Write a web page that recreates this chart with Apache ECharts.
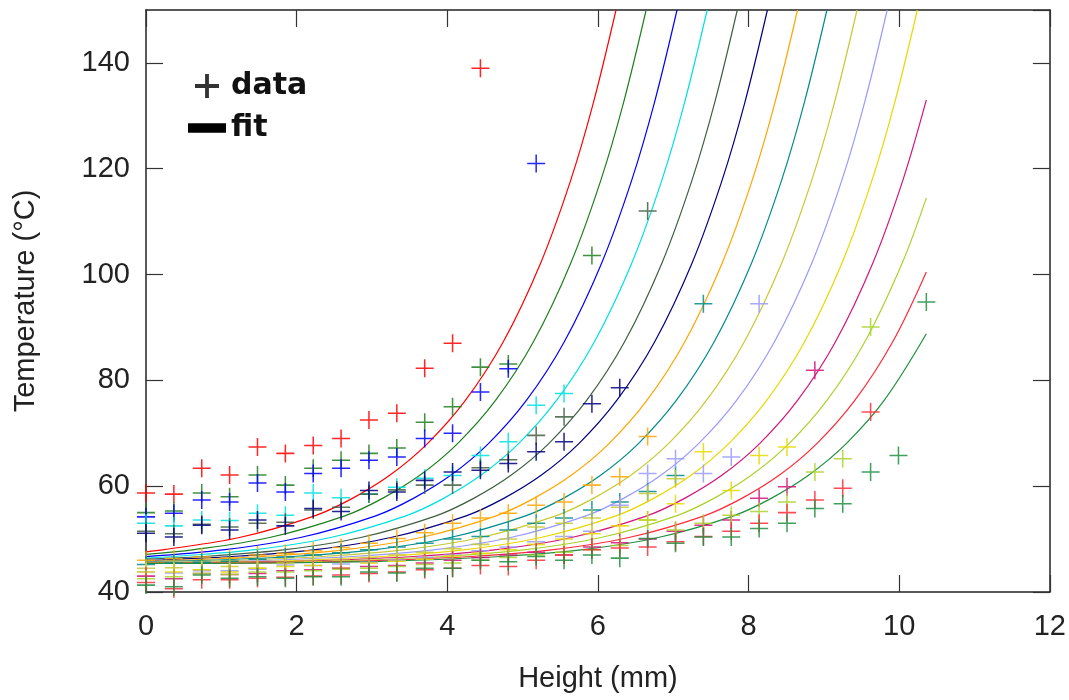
<!DOCTYPE html>
<html>
<head>
<meta charset="utf-8">
<title>Temperature vs Height</title>
<script src="https://cdn.jsdelivr.net/npm/echarts@6/dist/echarts.min.js"></script>
<style>
  html, body { margin: 0; padding: 0; background: #fff; }
  #chart { width: 1069px; height: 700px; }
</style>
</head>
<body>
<div id="chart"></div>
<script>
// axis ticks
const xTicks = [0, 2, 4, 6, 8, 10, 12]
const yTicks = [40, 60, 80, 100, 120, 140]

// one colour per run, same for the crosses and the fitted curve
const colors = ['#ff0000', '#1f7f1f', '#0000ff', '#00e0e0', '#3f5f3f', '#000080', '#ffa500', '#008b8b',
  '#c8c832', '#9999ff', '#e8d800', '#d4147a', '#aad22a', '#ff2a3a', '#1f8f3f']

// measured points [height mm, temperature °C]
const data1 = [[0, 58.7], [0.37, 58.5], [0.74, 63.4], [1.11, 62.1], [1.48, 67.4], [1.85, 66.2], [2.22, 67.7], [2.59, 69.0], [2.96, 72.5], [3.33, 73.8], [3.7, 82.3], [4.07, 87.0], [4.44, 139.0]]
const data2 = [[0, 55.0], [0.37, 55.3], [0.74, 58.7], [1.11, 58.0], [1.48, 62.1], [1.85, 60.2], [2.22, 63.4], [2.59, 64.9], [2.96, 66.2], [3.33, 67.2], [3.7, 72.1], [4.07, 75.0], [4.44, 82.5], [4.81, 83.1], [5.92, 103.6]]
const data3 = [[0, 54.2], [0.37, 54.9], [0.74, 57.4], [1.11, 57.0], [1.48, 60.6], [1.85, 58.9], [2.22, 62.4], [2.59, 63.4], [2.96, 64.9], [3.33, 65.5], [3.7, 69.0], [4.07, 70.0], [4.44, 77.8], [4.81, 82.2], [5.18, 121.0]]
const data4 = [[0, 53.0], [0.37, 52.5], [0.74, 53.6], [1.11, 53.5], [1.48, 54.9], [1.85, 54.5], [2.22, 58.7], [2.59, 57.8], [2.96, 58.5], [3.33, 59.8], [3.7, 61.5], [4.07, 62.0], [4.44, 65.8], [4.81, 68.4], [5.18, 75.3], [5.55, 77.5]]
const data5 = [[0, 51.5], [0.37, 51.0], [0.74, 52.8], [1.11, 52.3], [1.48, 53.0], [1.85, 53.2], [2.22, 55.5], [2.59, 56.0], [2.96, 58.5], [3.33, 59.3], [3.7, 60.2], [4.07, 60.2], [4.44, 63.5], [4.81, 65.0], [5.18, 69.6], [5.55, 73.1], [6.66, 112.0]]
const data6 = [[0, 51.1], [0.37, 50.4], [0.74, 52.6], [1.11, 51.7], [1.48, 53.6], [1.85, 52.5], [2.22, 55.8], [2.59, 55.2], [2.96, 59.2], [3.33, 58.9], [3.7, 61.1], [4.07, 62.7], [4.44, 63.0], [4.81, 64.3], [5.18, 66.5], [5.55, 68.4], [5.92, 75.6], [6.29, 78.6]]
const data7 = [[0, 46.0], [0.37, 46.3], [0.74, 46.6], [1.11, 46.4], [1.48, 47.0], [1.85, 47.3], [2.22, 47.8], [2.59, 48.4], [2.96, 49.2], [3.33, 50.1], [3.7, 51.2], [4.07, 53.0], [4.44, 54.0], [4.81, 54.9], [5.18, 56.4], [5.55, 57.0], [5.92, 60.2], [6.29, 61.8], [6.66, 69.4]]
const data8 = [[0, 45.2], [0.37, 45.5], [0.74, 45.6], [1.11, 45.8], [1.48, 46.2], [1.85, 46.6], [2.22, 47.0], [2.59, 47.4], [2.96, 48.0], [3.33, 48.5], [3.7, 49.2], [4.07, 50.0], [4.44, 50.5], [4.81, 51.7], [5.18, 53.0], [5.55, 54.0], [5.92, 55.5], [6.29, 57.0], [6.66, 59.0], [7.03, 62.0], [7.4, 94.5]]
const data9 = [[0, 44.5], [0.37, 44.6], [0.74, 44.2], [1.11, 44.8], [1.48, 44.5], [1.85, 45.5], [2.22, 45.8], [2.59, 46.0], [2.96, 46.5], [3.33, 47.0], [3.7, 47.5], [4.07, 48.2], [4.44, 49.0], [4.81, 50.0], [5.18, 52.3], [5.55, 53.0], [5.92, 54.0], [6.29, 56.0], [6.66, 58.6], [7.03, 61.4]]
const data10 = [[0, 43.8], [0.37, 43.6], [0.74, 44.0], [1.11, 44.0], [1.48, 44.3], [1.85, 45.1], [2.22, 45.0], [2.59, 45.3], [2.96, 45.6], [3.33, 46.0], [3.7, 46.5], [4.07, 47.0], [4.44, 47.8], [4.81, 48.5], [5.18, 49.5], [5.55, 50.5], [5.92, 51.5], [6.29, 56.4], [6.66, 62.4], [7.03, 65.2], [7.4, 62.4], [7.77, 65.5], [8.14, 94.5]]
const data11 = [[0, 43.8], [0.37, 43.8], [0.74, 44.2], [1.11, 43.8], [1.48, 44.5], [1.85, 44.8], [2.22, 45.0], [2.59, 44.5], [2.96, 45.5], [3.33, 45.8], [3.7, 46.2], [4.07, 46.8], [4.44, 47.3], [4.81, 48.0], [5.18, 49.0], [5.55, 50.0], [5.92, 51.0], [6.29, 52.5], [6.66, 53.6], [7.03, 56.7], [7.4, 66.5], [7.77, 59.2], [8.14, 65.8], [8.51, 67.4]]
const data12 = [[0, 43.0], [0.37, 42.5], [0.74, 43.5], [1.11, 43.3], [1.48, 43.5], [1.85, 44.0], [2.22, 44.2], [2.59, 44.5], [2.96, 44.8], [3.33, 45.0], [3.7, 45.5], [4.07, 46.0], [4.44, 46.5], [4.81, 47.0], [5.18, 47.5], [5.55, 47.0], [5.92, 48.5], [6.29, 49.3], [6.66, 50.0], [7.03, 51.5], [7.4, 52.6], [7.77, 53.6], [8.14, 57.7], [8.51, 59.9], [8.88, 81.9]]
const data13 = [[0, 42.5], [0.37, 42.9], [0.74, 43.5], [1.11, 43.3], [1.48, 43.8], [1.85, 43.8], [2.22, 44.0], [2.59, 44.3], [2.96, 44.5], [3.33, 44.8], [3.7, 45.2], [4.07, 45.5], [4.44, 46.0], [4.81, 46.5], [5.18, 47.0], [5.55, 47.5], [5.92, 48.0], [6.29, 48.8], [6.66, 53.6], [7.03, 51.7], [7.4, 53.0], [7.77, 54.5], [8.14, 55.2], [8.51, 57.0], [8.88, 62.7], [9.25, 65.2], [9.62, 90.1]]
const data14 = [[0, 41.8], [0.37, 40.6], [0.74, 42.3], [1.11, 42.3], [1.48, 42.6], [1.85, 42.8], [2.22, 43.0], [2.59, 43.2], [2.96, 43.5], [3.33, 43.8], [3.7, 44.2], [4.07, 44.5], [4.44, 45.0], [4.81, 44.8], [5.18, 46.0], [5.55, 47.0], [5.92, 48.0], [6.29, 48.3], [6.66, 48.5], [7.03, 49.5], [7.4, 50.5], [7.77, 51.5], [8.14, 53.0], [8.51, 55.0], [8.88, 57.4], [9.25, 59.6], [9.62, 74.0]]
const data15 = [[0, 41.3], [0.37, 41.0], [0.74, 43.2], [1.11, 42.6], [1.48, 42.9], [1.85, 42.6], [2.22, 42.9], [2.59, 42.9], [2.96, 43.8], [3.33, 43.6], [3.7, 44.5], [4.07, 44.5], [4.44, 46.0], [4.81, 45.7], [5.18, 46.7], [5.55, 46.0], [5.92, 47.0], [6.29, 46.4], [6.66, 50.1], [7.03, 49.2], [7.4, 50.4], [7.77, 50.4], [8.14, 52.0], [8.51, 53.0], [8.88, 55.8], [9.25, 56.7], [9.62, 62.7], [9.99, 65.8], [10.36, 94.8]]

// fitted curves
const fit1 = [[0, 47.6], [0.24, 48.0], [1.24, 50.3], [2.24, 54.4], [2.74, 57.7], [3.24, 62.1], [3.74, 68.1], [4.24, 76.2], [4.74, 87.2], [5.24, 102.2], [5.64, 117.9], [5.94, 132.5], [6.24, 150]]
const fit2 = [[0, 47.1], [0.64, 48.0], [1.64, 50.3], [2.64, 54.4], [3.14, 57.7], [3.64, 62.1], [4.14, 68.1], [4.64, 76.2], [5.14, 87.2], [5.64, 102.2], [6.04, 117.9], [6.34, 132.5], [6.64, 150]]
const fit3 = [[0, 46.7], [1.05, 48.0], [2.05, 50.3], [3.05, 54.4], [3.55, 57.7], [4.05, 62.1], [4.55, 68.1], [5.05, 76.2], [5.55, 87.2], [6.05, 102.2], [6.45, 117.9], [6.75, 132.5], [7.05, 150]]
const fit4 = [[0, 46.4], [0.45, 46.8], [1.45, 48.0], [2.45, 50.3], [3.45, 54.4], [3.95, 57.7], [4.45, 62.1], [4.95, 68.1], [5.45, 76.2], [5.95, 87.2], [6.45, 102.2], [6.85, 117.9], [7.15, 132.5], [7.45, 150]]
const fit5 = [[0, 46.2], [0.85, 46.8], [1.85, 48.0], [2.85, 50.3], [3.85, 54.4], [4.35, 57.7], [4.85, 62.1], [5.35, 68.1], [5.85, 76.2], [6.35, 87.2], [6.85, 102.2], [7.25, 117.9], [7.55, 132.5], [7.85, 150]]
const fit6 = [[0, 46.0], [0.25, 46.1], [1.25, 46.8], [2.25, 48.0], [3.25, 50.3], [4.25, 54.4], [4.75, 57.7], [5.25, 62.1], [5.75, 68.1], [6.25, 76.2], [6.75, 87.2], [7.25, 102.2], [7.65, 117.9], [7.95, 132.5], [8.25, 150]]
const fit7 = [[0, 45.8], [0.65, 46.1], [1.65, 46.8], [2.65, 48.0], [3.65, 50.3], [4.65, 54.4], [5.15, 57.7], [5.65, 62.1], [6.15, 68.1], [6.65, 76.2], [7.15, 87.2], [7.65, 102.2], [8.05, 117.9], [8.35, 132.5], [8.65, 150]]
const fit8 = [[0, 45.7], [1.04, 46.1], [2.04, 46.8], [3.04, 48.0], [4.04, 50.3], [5.04, 54.4], [5.54, 57.7], [6.04, 62.1], [6.54, 68.1], [7.04, 76.2], [7.54, 87.2], [8.04, 102.2], [8.44, 117.9], [8.74, 132.5], [9.04, 150]]
const fit9 = [[0, 45.6], [0.44, 45.7], [1.44, 46.1], [2.44, 46.8], [3.44, 48.0], [4.44, 50.3], [5.44, 54.4], [5.94, 57.7], [6.44, 62.1], [6.94, 68.1], [7.44, 76.2], [7.94, 87.2], [8.44, 102.2], [8.84, 117.9], [9.14, 132.5], [9.44, 150]]
const fit10 = [[0, 45.6], [0.84, 45.7], [1.84, 46.1], [2.84, 46.8], [3.84, 48.0], [4.84, 50.3], [5.84, 54.4], [6.34, 57.7], [6.84, 62.1], [7.34, 68.1], [7.84, 76.2], [8.34, 87.2], [8.84, 102.2], [9.24, 117.9], [9.54, 132.5], [9.84, 150]]
const fit11 = [[0, 45.5], [1.24, 45.7], [2.24, 46.1], [3.24, 46.8], [4.24, 48.0], [5.24, 50.3], [6.24, 54.4], [6.74, 57.7], [7.24, 62.1], [7.74, 68.1], [8.24, 76.2], [8.74, 87.2], [9.24, 102.2], [9.64, 117.9], [9.94, 132.5], [10.24, 150]]
const fit12 = [[0, 45.4], [0.65, 45.5], [1.65, 45.7], [2.65, 46.1], [3.65, 46.8], [4.65, 48.0], [5.65, 50.3], [6.65, 54.4], [7.15, 57.7], [7.65, 62.1], [8.15, 68.1], [8.65, 76.2], [9.15, 87.2], [9.65, 102.2], [10.05, 117.9], [10.36, 133.0]]
const fit13 = [[0, 45.4], [1.04, 45.5], [2.04, 45.7], [3.04, 46.1], [4.04, 46.8], [5.04, 48.0], [6.04, 50.3], [7.04, 54.4], [7.54, 57.7], [8.04, 62.1], [8.54, 68.1], [9.04, 76.2], [9.54, 87.2], [10.04, 102.2], [10.36, 114.5]]
const fit14 = [[0, 45.4], [1.41, 45.5], [2.41, 45.7], [3.41, 46.1], [4.41, 46.8], [5.41, 48.0], [6.41, 50.3], [7.41, 54.4], [7.91, 57.7], [8.41, 62.1], [8.91, 68.1], [9.41, 76.2], [9.91, 87.2], [10.36, 100.5]]
const fit15 = [[0, 45.4], [0.8, 45.4], [1.8, 45.5], [2.8, 45.7], [3.8, 46.1], [4.8, 46.8], [5.8, 48.0], [6.8, 50.3], [7.8, 54.4], [8.3, 57.7], [8.8, 62.1], [9.3, 68.1], [9.8, 76.2], [10.36, 88.8]]

const measured = [data1, data2, data3, data4, data5, data6, data7, data8, data9, data10, data11, data12, data13, data14, data15]
const fits = [fit1, fit2, fit3, fit4, fit5, fit6, fit7, fit8, fit9, fit10, fit11, fit12, fit13, fit14, fit15]

const plusThin = 'path://M0,9.15H9.15V0H10.85V9.15H20V10.85H10.85V20H9.15V10.85H0Z'
const plusBold = 'path://M0,8.4H8.4V0H11.6V8.4H20V11.6H11.6V20H8.4V11.6H0Z'
const barIcon = 'path://M0,0H40V10H0Z'

let chart = echarts.init(document.getElementById('chart'))
let series = []

for (let i = 0; i < fits.length; i++) {
  series.push({
    type: 'line',
    name: 'fit' + (i + 1),
    data: fits[i],
    showSymbol: false,
    smooth: 0.35,
    clip: true,
    silent: true,
    z: 2,
    lineStyle: { color: colors[i], width: 1.2 }
  })
}

for (let i = 0; i < measured.length; i++) {
  series.push({
    type: 'scatter',
    name: 'data' + (i + 1),
    data: measured[i],
    symbol: plusThin,
    symbolSize: 18,
    silent: true,
    z: 3,
    itemStyle: { color: colors[i], opacity: 0.85 }
  })
}

// empty series only so the legend has black entries
series.push({ type: 'scatter', name: 'data', data: [], itemStyle: { color: '#000' } })
series.push({ type: 'line', name: 'fit', data: [], itemStyle: { color: '#000' }, lineStyle: { color: '#000' } })

const labelFont = { fontFamily: 'Liberation Sans', fontSize: 29, color: '#222' }
const frameLine = { show: true, onZero: false, lineStyle: { color: '#222', width: 1.5 } }
const innerTick = { show: true, inside: true, length: 17, lineStyle: { color: '#333', width: 1.2 } }

const option = {
  animation: false,
  backgroundColor: '#fff',
  grid: { left: 146, right: 19, top: 10, bottom: 108 },
  legend: {
    show: true,
    orient: 'vertical',
    left: 183,
    top: 66,
    itemWidth: 38,
    itemHeight: 24,
    itemGap: 12,
    selectedMode: false,
    symbolKeepAspect: true,
    textStyle: { fontFamily: 'DejaVu Sans', fontWeight: 'bold', fontSize: 30, color: '#111' },
    data: [
      { name: 'data', icon: plusBold },
      { name: 'fit', icon: barIcon }
    ]
  },
  xAxis: [{
    type: 'value',
    min: xTicks[0],
    max: xTicks[xTicks.length - 1],
    interval: 2,
    name: 'Height (mm)',
    nameLocation: 'middle',
    nameGap: 72,
    nameTextStyle: labelFont,
    axisLine: frameLine,
    axisTick: innerTick,
    axisLabel: Object.assign({ margin: 20 }, labelFont),
    splitLine: { show: false }
  }, {
    type: 'value',
    position: 'top',
    min: xTicks[0],
    max: xTicks[xTicks.length - 1],
    interval: 2,
    axisLine: frameLine,
    axisTick: innerTick,
    axisLabel: { show: false },
    splitLine: { show: false }
  }],
  yAxis: [{
    type: 'value',
    min: yTicks[0],
    max: 150,
    interval: 20,
    name: 'Temperature (°C)',
    nameLocation: 'middle',
    nameGap: 106,
    nameTextStyle: labelFont,
    axisLine: frameLine,
    axisTick: innerTick,
    axisLabel: Object.assign({ margin: 16, showMaxLabel: false }, labelFont),
    splitLine: { show: false }
  }, {
    type: 'value',
    position: 'right',
    min: yTicks[0],
    max: 150,
    interval: 20,
    axisLine: frameLine,
    axisTick: innerTick,
    axisLabel: { show: false },
    splitLine: { show: false }
  }],
  series: series
}

chart.setOption(option)
</script>
</body>
</html>
